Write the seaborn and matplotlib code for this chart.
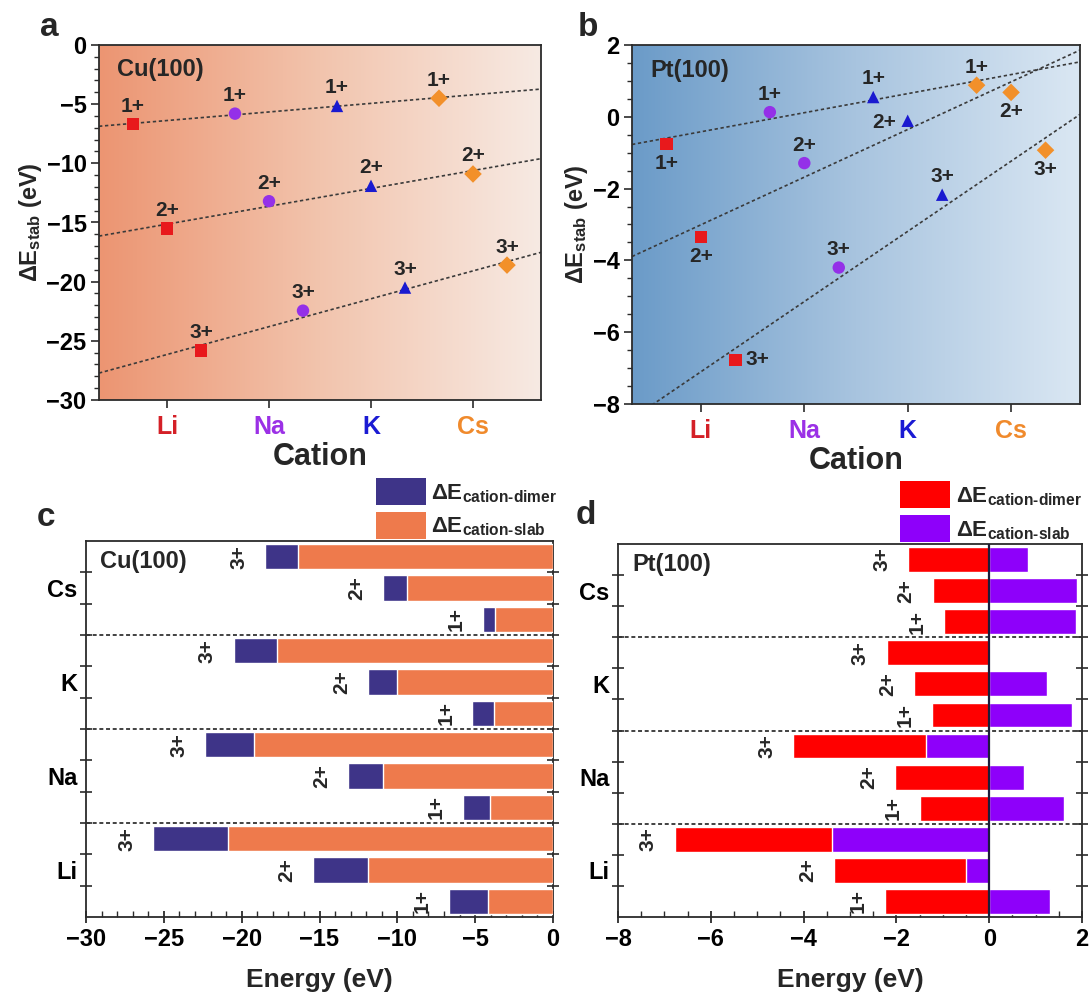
import numpy as np
import pandas as pd
import matplotlib
matplotlib.use("Agg")
import matplotlib.pyplot as plt
import seaborn as sns
from matplotlib.colors import LinearSegmentedColormap
from matplotlib.patches import Patch
from matplotlib.ticker import MultipleLocator, FixedLocator

# ---------------- data ----------------
cations = ["Li", "Na", "K", "Cs"]
charges = ["1+", "2+", "3+"]

# panel a: Cu(100) stabilisation energy (eV), one list per charge, over cations
cu_stab_1p = [-6.7, -5.8, -5.15, -4.5]
cu_stab_2p = [-15.5, -13.2, -11.9, -10.9]
cu_stab_3p = [-25.8, -22.45, -20.5, -18.6]

# panel b: Pt(100)
pt_stab_1p = [-0.75, 0.13, 0.55, 0.88]
pt_stab_2p = [-3.35, -1.29, -0.11, 0.68]
pt_stab_3p = [-6.77, -4.20, -2.17, -0.93]

# panel c: Cu(100) components (eV), one list per charge, over cations
cu_dimer_1p = [-2.5, -1.75, -1.4, -0.75]
cu_dimer_2p = [-3.5, -2.25, -1.9, -1.5]
cu_dimer_3p = [-4.8, -3.15, -2.8, -2.1]
cu_slab_1p = [-4.2, -4.05, -3.8, -3.75]
cu_slab_2p = [-11.9, -10.9, -10.0, -9.4]
cu_slab_3p = [-20.9, -19.2, -17.7, -16.4]

# panel d: Pt(100) components
pt_dimer_1p = [-2.25, -1.50, -1.24, -0.98]
pt_dimer_2p = [-2.85, -2.03, -1.62, -1.22]
pt_dimer_3p = [-3.40, -2.86, -2.21, -1.75]
pt_slab_1p = [1.30, 1.61, 1.79, 1.86]
pt_slab_2p = [-0.50, 0.74, 1.25, 1.89]
pt_slab_3p = [-3.38, -1.36, 0.0, 0.83]

# label placement for panel b (layout only)
pt_side_1p = ["below", "above", "above", "above"]
pt_side_2p = ["below", "above", "left", "below"]
pt_side_3p = ["right", "above", "above", "below"]
cu_side = ["above"] * 4

# ---------------- style ----------------
sns.set_theme(style="ticks")
plt.rcParams.update({
    "font.family": ["Liberation Sans", "DejaVu Sans"],
    "font.weight": "bold",
    "axes.labelweight": "bold",
    "mathtext.fontset": "custom",
    "mathtext.rm": "Liberation Sans:bold",
    "mathtext.bf": "Liberation Sans:bold",
    "mathtext.it": "Liberation Sans:bold:italic",
    "mathtext.sf": "Liberation Sans:bold",
    "mathtext.default": "bf",
    "axes.edgecolor": "#2b2b2b",
    "axes.linewidth": 1.3,
    "xtick.color": "#2b2b2b",
    "ytick.color": "#2b2b2b",
    "xtick.labelcolor": "black",
    "ytick.labelcolor": "black",
})

marker_colors = {"Li": "#E8191C", "Na": "#9430E8", "K": "#1A1AD0", "Cs": "#F2902A"}
tick_colors = {"Li": "#D42027", "Na": "#9B30E6", "K": "#1B1BD3", "Cs": "#F08A2C"}
markers = {"Li": "s", "Na": "o", "K": "^", "Cs": "D"}
offsets = {"above": (0, 13), "below": (0, -14), "left": (-17, -1), "right": (16, 0)}

fig = plt.figure(figsize=(10.92, 9.96), dpi=100)
W, H = 1092, 996


def add_ax(l, t, r, b):
    return fig.add_axes([l / W, 1 - b / H, (r - l) / W, (b - t) / H])


def scatter_panel(ax, stab, sides, ylim, ymaj, ymin, cmap_colors, title):
    rows = []
    for qi, q in enumerate(charges):
        for ci, cat in enumerate(cations):
            rows.append(dict(cation=cat, charge=q, xpos=ci + 1 + (qi - 1) / 3,
                             val=stab[qi][ci], side=sides[qi][ci]))
    df = pd.DataFrame(rows)
    xlim = (1 - 2 / 3, 4 + 2 / 3)
    ax.set_xlim(*xlim)
    ax.set_ylim(*ylim)
    cmap = LinearSegmentedColormap.from_list("bg", cmap_colors)
    grad = np.linspace(0, 1, 256).reshape(1, -1)
    ax.imshow(grad, cmap=cmap, extent=[0, 1, 0, 1], transform=ax.transAxes,
              aspect="auto", zorder=0, interpolation="bicubic")
    for q in charges:
        sub = df[df.charge == q]
        sns.regplot(data=sub, x="xpos", y="val", scatter=False, ci=None,
                    truncate=False, ax=ax,
                    line_kws=dict(color="#3a3a3a", lw=1.2, ls=(0, (2, 1.6)), zorder=2))
    sns.scatterplot(data=df, x="xpos", y="val", hue="cation", style="cation",
                    palette=marker_colors, markers=markers, s=80, linewidth=0,
                    legend=False, ax=ax, zorder=3)
    for _, r in df.iterrows():
        dx, dy = offsets[r.side]
        ax.annotate(r.charge, (r.xpos, r.val), xytext=(dx, dy),
                    textcoords="offset points", ha="center", va="center",
                    fontsize=15, fontweight="bold", zorder=4)
    ax.set_xlim(*xlim)
    ax.set_ylim(*ylim)
    ax.set_xticks([1, 2, 3, 4])
    ax.set_xticklabels(cations)
    for lbl in ax.get_xticklabels():
        lbl.set_color(tick_colors[lbl.get_text()])
    ax.yaxis.set_major_locator(MultipleLocator(ymaj))
    ax.yaxis.set_minor_locator(MultipleLocator(ymin))
    ax.tick_params(axis="x", which="major", direction="out", length=6, width=1.2,
                   labelsize=18, pad=5)
    ax.tick_params(axis="y", which="major", direction="out", length=6, width=1.2,
                   labelsize=17, pad=3)
    ax.tick_params(axis="y", which="minor", direction="out", length=3.5, width=1.0)
    ax.set_xlabel("Cation", fontsize=22, labelpad=2)
    ax.set_ylabel(r"ΔE$_{\text{stab}}$ (eV)", fontsize=17, labelpad=2)
    ax.text(0.04, 0.93, title, transform=ax.transAxes, ha="left", va="center",
            fontsize=17, fontweight="bold", zorder=5)


def bar_panel(ax, dimer, slab, xlim, xmaj, xmin, c_dimer, c_slab, title, legend_anchor):
    rows = []
    for cat_i in reversed(range(len(cations))):
        for qi in reversed(range(len(charges))):
            d = dimer[qi][cat_i]
            s = slab[qi][cat_i]
            rows.append(dict(row=f"{cations[cat_i]} {charges[qi]}", charge=charges[qi],
                             dimer=d, slab=s, red=d + min(s, 0.0)))
    df = pd.DataFrame(rows)
    order = list(df.row)
    sns.barplot(data=df, x="red", y="row", order=order, color=c_dimer, width=0.8,
                saturation=1, errorbar=None, orient="h", ax=ax, zorder=2)
    sns.barplot(data=df, x="slab", y="row", order=order, color=c_slab, width=0.8,
                saturation=1, errorbar=None, orient="h", ax=ax, zorder=3)
    ax.set_xlim(*xlim)
    ax.set_ylim(len(order) - 0.5, -0.5)
    for i, r in df.iterrows():
        left = min(0.0, r.red, r.slab)
        ax.annotate(r.charge, (left, i), xytext=(-19, 0), textcoords="offset points",
                    rotation=90, ha="center", va="center", fontsize=15,
                    fontweight="bold")
    for y in [2.5, 5.5, 8.5]:
        ax.axhline(y, color="#333333", lw=1.3, ls=(0, (2.2, 1.5)), zorder=4)
    ax.yaxis.set_major_locator(FixedLocator([1, 4, 7, 10]))
    ax.set_yticklabels(list(reversed(cations)))
    ax.yaxis.set_minor_locator(FixedLocator(np.arange(0.5, 11, 1.0)))
    ax.xaxis.set_major_locator(MultipleLocator(xmaj))
    ax.xaxis.set_minor_locator(MultipleLocator(xmin))
    ax.tick_params(axis="x", which="major", direction="inout", length=8, width=1.3,
                   labelsize=17, pad=4)
    ax.tick_params(axis="x", which="minor", direction="in", length=4, width=1.0)
    ax.tick_params(axis="y", which="major", length=0, labelsize=17, pad=6)
    ax.tick_params(axis="y", which="minor", direction="inout", length=8, width=1.2,
                   left=True, right=True)
    ax.set_ylabel("")
    ax.set_xlabel("Energy (eV)", fontsize=19, labelpad=12)
    ax.text(0.03, 0.945, title, transform=ax.transAxes, ha="left", va="center",
            fontsize=17, fontweight="bold", zorder=5)
    handles = [Patch(facecolor=c_dimer, edgecolor="none"),
               Patch(facecolor=c_slab, edgecolor="none")]
    labels = [r"ΔE$_{\text{cation-dimer}}$", r"ΔE$_{\text{cation-slab}}$"]
    ax.legend(handles, labels, loc="lower right", bbox_to_anchor=legend_anchor,
              frameon=False, fontsize=16, handlelength=2.25, handleheight=1.5,
              handletextpad=0.25, labelspacing=0.3, borderpad=0, borderaxespad=0)


# ---------------- panels ----------------
ax_a = add_ax(99, 45, 541, 400)
scatter_panel(ax_a, [cu_stab_1p, cu_stab_2p, cu_stab_3p], [cu_side, cu_side, cu_side],
              (-30, 0), 5, 1, ["#EC9572", "#F2C4AD", "#F7EAE3"], "Cu(100)")

ax_b = add_ax(632, 45, 1080, 404)
scatter_panel(ax_b, [pt_stab_1p, pt_stab_2p, pt_stab_3p], [pt_side_1p, pt_side_2p, pt_side_3p],
              (-8, 2), 2, 0.5, ["#6B9BC8", "#A8C4DF", "#DAE7F3"], "Pt(100)")

ax_c = add_ax(86, 541, 553, 917)
bar_panel(ax_c, [cu_dimer_1p, cu_dimer_2p, cu_dimer_3p], [cu_slab_1p, cu_slab_2p, cu_slab_3p],
          (-30, 0), 5, 1, "#3E3488", "#EE7A4C", "Cu(100)", (1.01, 1.005))

ax_d = add_ax(618, 544, 1082, 917)
bar_panel(ax_d, [pt_dimer_1p, pt_dimer_2p, pt_dimer_3p], [pt_slab_1p, pt_slab_2p, pt_slab_3p],
          (-8, 2), 2, 0.5, "#FF0000", "#8E00FA", "Pt(100)", (1.0, 1.005))
ax_d.axvline(0, color="#1c1c3a", lw=1.6, zorder=5)

for lbl, (x, y) in {"a": (49, 27), "b": (588, 27), "c": (46, 517), "d": (586, 515)}.items():
    fig.text(x / W, 1 - y / H, lbl, fontsize=24, fontweight="bold", ha="center", va="center")

fig.savefig("out.png", dpi=100)
